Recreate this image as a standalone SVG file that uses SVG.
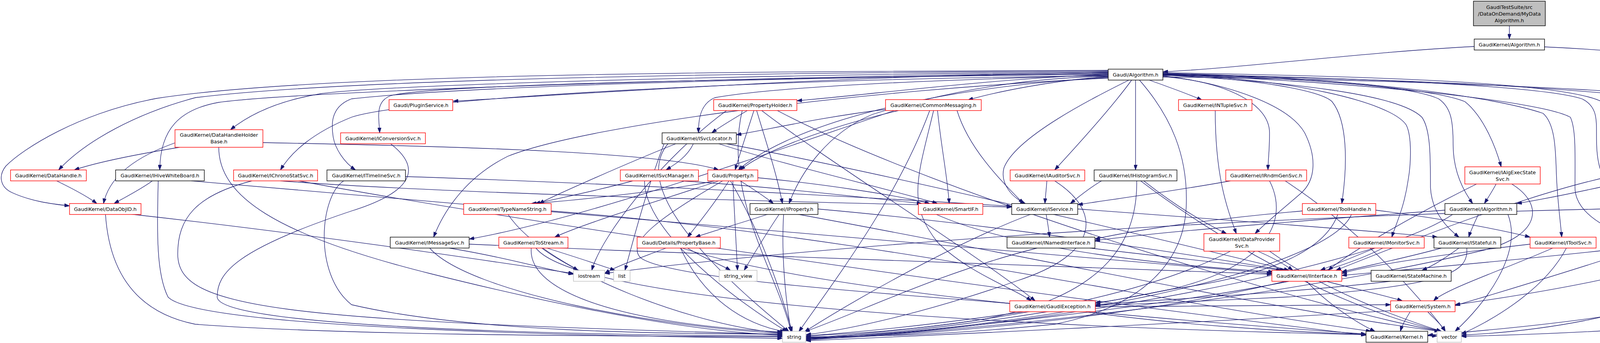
<svg xmlns="http://www.w3.org/2000/svg" width="4883" height="878" viewBox="0 0 4883 878">
<defs>
<marker id="a" markerWidth="13" markerHeight="9" refX="13" refY="4.5" orient="auto" markerUnits="userSpaceOnUse"><path d="M0,0 L13,4.5 L0,9 z" fill="#191970" stroke="#191970" stroke-width="1"/></marker>
</defs>
<style>
rect{fill:#fff;stroke-width:1.4}
.r{stroke:#ff0000}.b{stroke:#000}.g{stroke:#bfbfbf}
text{font-family:"DejaVu Sans",sans-serif;font-size:12.8px;text-anchor:middle;fill:#000}
#edges path{fill:none;stroke:#191970;stroke-width:1.3;marker-end:url(#a)}
</style>
<rect x="0" y="0" width="4883" height="878" style="fill:#fff;stroke:none"/>
<g id="edges">
<path d="M3864,66 C3864,80 3864,86 3864,100"/>
<path d="M3774,119 C3500,133 3200,172 2977,184"/>
<path d="M3954,120 C4300,135 4827,200 4827,300 C4827,420 4780,480 4737,521"/>
<path d="M2837,186 C2200,190 1500,240 1160,259"/>
<path d="M2837,190 C2500,205 2250,240 2040,258"/>
<path d="M2837,196 C2700,205 2550,235 2478,256"/>
<path d="M2942,205 C2990,222 3040,240 3077,256"/>
<path d="M2837,188 C2000,200 1100,215 1000,245 C960,260 970,300 972,340"/>
<path d="M2837,192 C2400,205 2000,220 1830,250 C1795,265 1788,300 1788,340"/>
<path d="M2837,184 C2000,190 1000,215 820,240 C700,260 630,300 590,332"/>
<path d="M2837,182 C2000,185 900,200 500,250 C350,290 220,360 150,435"/>
<path d="M2837,180 C1800,183 800,190 400,252 C200,290 60,380 15,425 C-5,450 0,480 33,494 C80,515 130,522 178,527"/>
<path d="M2837,186 C2000,195 800,230 560,262 C460,280 410,330 409,435"/>
<path d="M2837,194 C2000,200 1050,250 900,300 C800,340 745,390 718,435"/>
<path d="M2837,190 C2000,198 1200,220 900,253 C840,275 850,330 853,351 C858,380 880,415 910,435"/>
<path d="M2837,198 C2300,230 2000,340 1890,435"/>
<path d="M2897,205 C2850,270 2760,370 2700,435"/>
<path d="M2907,205 L2907,435"/>
<path d="M2977,196 C3150,210 3250,270 3250,340 C3250,390 3246,410 3246,435"/>
<path d="M2977,188 C3300,200 3650,220 3750,260 C3800,300 3830,380 3843,427"/>
<path d="M2977,186 C3500,195 4000,210 4100,260 C4170,300 4205,370 4225,435"/>
<path d="M2837,195 C2600,200 2400,240 2233,293 C2120,340 2050,440 2020,521"/>
<path d="M2890,205 C2800,250 2600,350 2570,430 C2560,470 2590,505 2625,521"/>
<path d="M2977,192 C3200,200 3380,230 3410,260 C3450,310 3450,420 3435,521"/>
<path d="M2977,190 C3300,200 3600,215 3683,253 C3715,275 3720,310 3720,370 C3720,430 3740,480 3770,521"/>
<path d="M2977,189 C3500,200 3950,220 4050,253 C4085,270 4087,300 4087,330 C4087,400 4085,460 4160,521"/>
<path d="M2837,200 C2200,230 1500,320 1300,400 C1200,450 1140,530 1110,607"/>
<path d="M2977,194 C3150,215 3300,270 3340,340 C3370,400 3370,460 3330,495 C3290,530 3240,570 3213,598"/>
<path d="M2977,190 C3300,200 3560,260 3600,320 C3615,350 3612,420 3605,460 C3595,530 3575,570 3563,607"/>
<path d="M2977,192 C3300,210 3580,240 3640,300 C3662,330 3662,400 3662,480 C3665,540 3700,580 3735,607"/>
<path d="M2977,188 C3400,195 3800,240 3950,290 C3985,320 3982,400 3985,460 C3988,520 3995,570 3998,607"/>
<path d="M2977,191 C3500,210 3950,260 4020,300 C4035,330 4032,400 4032,480 C4032,540 4100,580 4172,607"/>
<path d="M2977,193 C3600,200 4400,230 4530,320 C4557,345 4557,400 4557,500 C4557,600 4300,700 3725,780"/>
<path d="M2977,197 C3700,205 4500,240 4780,300 C4877,330 4877,420 4877,500 C4877,650 4877,720 4800,760 C4600,830 4000,855 3741,861"/>
<path d="M2917,205 C3000,300 3040,400 3037,520 C3035,650 2950,780 2700,830 C2400,860 2200,862 2063,862"/>
<path d="M1913,283 C1880,303 1850,320 1822,340"/>
<path d="M1930,283 C1915,330 1895,390 1882,435"/>
<path d="M1937,283 C1960,360 1990,450 2003,521"/>
<path d="M1950,283 C2100,400 2500,650 2650,770"/>
<path d="M1860,283 C1700,400 1540,600 1515,692"/>
<path d="M1900,283 C1850,500 1990,700 2025,849"/>
<path d="M1990,283 C2400,500 3400,800 3690,848"/>
<path d="M2290,283 C2000,380 1500,560 1201,612"/>
<path d="M2267,280 C2100,300 1950,335 1885,345"/>
<path d="M2400,283 C2410,380 2425,450 2430,521"/>
<path d="M2450,283 C2480,380 2560,460 2620,521"/>
<path d="M2300,283 C2100,330 1950,390 1895,435"/>
<path d="M2380,283 C2300,500 2150,700 2045,849"/>
<path d="M2390,283 C2350,450 2320,520 2400,620 C2480,700 2600,740 2640,770"/>
<path d="M3111,283 C3111,450 3140,530 3165,598"/>
<path d="M1000,368 C1080,430 1060,490 900,540 C600,640 556,700 556,760 C556,840 1500,858 2003,860"/>
<path d="M1775,368 C1760,400 1730,420 1705,435"/>
<path d="M1730,368 C1600,420 1420,500 1380,521"/>
<path d="M1840,368 C2000,420 2300,490 2400,521"/>
<path d="M1860,368 C2300,450 3000,620 3300,692"/>
<path d="M1700,368 C1650,500 1620,620 1600,692"/>
<path d="M1710,368 C1600,500 1900,750 2020,849"/>
<path d="M460,377 C350,395 250,415 190,435"/>
<path d="M450,365 C350,400 280,450 265,521"/>
<path d="M673,365 C1200,375 1700,390 1840,435"/>
<path d="M560,377 C560,500 700,600 1100,700 C1500,800 1800,850 2003,858"/>
<path d="M145,463 C180,480 220,500 248,521"/>
<path d="M390,463 C360,485 320,505 292,521"/>
<path d="M405,463 C402,600 400,700 430,760 C500,840 1500,860 2003,866"/>
<path d="M490,463 C1500,550 2800,660 3256,700"/>
<path d="M645,463 C500,500 455,560 455,650 C455,790 700,820 2003,856"/>
<path d="M718,463 C1200,500 2200,520 2590,530"/>
<path d="M765,463 C1500,600 3000,800 3497,858"/>
<path d="M1038,452 C1600,470 2300,510 2590,528"/>
<path d="M880,463 C820,500 800,700 900,780 C1200,850 1700,855 2003,855"/>
<path d="M1620,463 C1520,490 1420,510 1370,521"/>
<path d="M1745,463 C2000,480 2250,510 2360,521"/>
<path d="M1650,463 C1650,600 1900,780 2015,849"/>
<path d="M1866,463 C1830,520 1790,570 1760,607"/>
<path d="M1876,463 C1880,550 1885,630 1888,692"/>
<path d="M1895,463 C1930,485 1960,505 1980,521"/>
<path d="M1840,463 C1700,510 1500,570 1420,607"/>
<path d="M1830,463 C1700,490 1450,515 1360,521"/>
<path d="M1850,463 C1700,550 1600,620 1640,660 C1720,720 2400,760 2600,778"/>
<path d="M1940,455 C2100,470 2300,500 2380,521"/>
<path d="M1870,463 C1950,600 2000,750 2028,849"/>
<path d="M2680,463 C2678,490 2676,505 2675,521"/>
<path d="M2700,463 C2820,540 2820,650 2600,720 C2400,790 2200,840 2063,857"/>
<path d="M2928,463 C3000,520 3080,570 3140,598"/>
<path d="M2910,463 C2912,600 2850,760 2500,820 C2300,850 2150,855 2063,860"/>
<path d="M2920,463 C3100,600 3400,780 3690,848"/>
<path d="M2820,463 C2790,480 2760,505 2740,521"/>
<path d="M3150,463 C3000,490 2850,510 2759,524"/>
<path d="M3250,463 C3300,560 3250,680 3000,740 C2600,820 2300,855 2063,866"/>
<path d="M3290,463 C3500,600 3650,780 3700,848"/>
<path d="M3830,471 C3820,490 3810,505 3800,521"/>
<path d="M3870,471 C3950,520 3950,600 3800,640 C3300,760 2500,850 2063,868"/>
<path d="M3780,471 C3600,560 3450,650 3400,692"/>
<path d="M4225,463 C4218,485 4212,505 4205,521"/>
<path d="M4170,463 C4050,490 3950,510 3883,521"/>
<path d="M4120,452 C3900,500 3600,620 3420,692"/>
<path d="M4280,463 C4350,520 4500,600 4400,700 C4200,820 3900,850 3741,858"/>
<path d="M270,548 C280,700 350,800 500,830 C900,860 1600,860 2003,862"/>
<path d="M333,548 C800,600 1200,660 1468,700"/>
<path d="M1300,548 C1400,700 1800,840 2003,852"/>
<path d="M1411,540 C2200,600 3000,780 3510,848"/>
<path d="M1967,548 C1900,570 1830,590 1780,607"/>
<path d="M1995,548 C1960,600 1930,650 1905,692"/>
<path d="M2006,548 C2000,650 2010,760 2025,849"/>
<path d="M2094,535 C2600,580 3100,660 3290,692"/>
<path d="M2040,548 C2600,650 3300,800 3685,848"/>
<path d="M2395,548 C2600,640 3000,680 3260,696"/>
<path d="M2678,548 C2682,570 2685,590 2687,607"/>
<path d="M2759,535 C3100,560 3500,590 3680,607"/>
<path d="M2640,548 C2450,620 2200,760 2060,849"/>
<path d="M3522,538 C3700,560 3850,590 3917,607"/>
<path d="M3334,540 C3100,560 2900,590 2803,612"/>
<path d="M3425,548 C3400,620 3300,700 3000,740 C2900,760 2850,770 2804,775"/>
<path d="M3460,548 C3400,700 2600,850 2063,864"/>
<path d="M3785,548 C3775,570 3765,590 3760,607"/>
<path d="M3699,538 C3400,560 3000,590 2803,616"/>
<path d="M3720,548 C3500,700 2500,860 2063,866"/>
<path d="M3860,548 C3900,650 3800,780 3725,848"/>
<path d="M4270,548 C4400,565 4520,590 4594,612"/>
<path d="M4098,535 C3000,560 2000,640 1548,700"/>
<path d="M4705,548 C4680,570 4660,590 4645,607"/>
<path d="M4720,548 C4700,700 4400,800 3655,858"/>
<path d="M1150,635 C1300,660 1400,690 1468,702"/>
<path d="M1100,635 C1200,750 1700,840 2003,853"/>
<path d="M1201,625 C2000,660 2900,690 3256,702"/>
<path d="M1387,635 C1420,660 1460,680 1480,692"/>
<path d="M1400,635 C1480,660 1540,680 1575,692"/>
<path d="M1360,635 C1350,750 1600,830 2003,850"/>
<path d="M1372,635 C1500,800 3000,850 3679,860"/>
<path d="M1705,635 C1640,660 1580,680 1548,700"/>
<path d="M1760,635 C1800,660 1850,680 1870,692"/>
<path d="M1742,635 C1800,760 1900,830 2010,849"/>
<path d="M1746,635 C2100,750 3000,820 3497,855"/>
<path d="M2790,635 C3000,660 3200,680 3280,692"/>
<path d="M2655,635 C2400,700 2200,800 2060,849"/>
<path d="M3220,643 C3260,660 3290,678 3310,692"/>
<path d="M3150,643 C3000,720 2700,820 2063,866"/>
<path d="M3250,643 C3400,750 3600,820 3690,848"/>
<path d="M3520,635 C3460,660 3410,680 3380,692"/>
<path d="M3540,635 C3300,760 2600,850 2063,868"/>
<path d="M3735,635 C3700,660 3670,680 3640,692"/>
<path d="M3690,635 C3600,660 3500,680 3435,696"/>
<path d="M3755,635 C3760,700 3700,730 3300,760 C3000,775 2850,780 2804,782"/>
<path d="M3975,635 C3850,690 3700,740 3670,770"/>
<path d="M3917,625 C3700,650 3500,680 3435,700"/>
<path d="M4010,635 C3950,750 3800,830 3741,855"/>
<path d="M4160,635 C3900,665 3600,690 3435,705"/>
<path d="M4200,635 C4000,700 3800,760 3725,782"/>
<path d="M3395,720 C3450,735 3540,755 3590,770"/>
<path d="M3345,720 C3400,780 3480,830 3520,848"/>
<path d="M3300,720 C3000,780 2400,850 2063,870"/>
<path d="M3560,720 C3300,750 3000,765 2804,780"/>
<path d="M2804,785 C3100,785 3400,780 3560,780"/>
<path d="M2780,798 C3000,830 3300,850 3497,856"/>
<path d="M2620,798 C2400,830 2200,850 2063,860"/>
<path d="M3610,798 C3600,815 3590,830 3585,848"/>
<path d="M3655,798 C3670,815 3690,830 3700,848"/>
<path d="M3565,795 C3000,830 2400,858 2063,872"/>
</g>
<g id="n_root"><rect x="3772" y="3" width="184" height="63" class="b" style="fill:#bfbfbf"/><text x="3864" y="22.5">GaudiTestSuite/src</text><text x="3864" y="39.5">/DataOnDemand/MyData</text><text x="3864" y="56.5">Algorithm.h</text></g>
<g id="n_gkalg"><rect x="3774" y="100" width="180" height="28" class="b"/><text x="3864" y="118.5">GaudiKernel/Algorithm.h</text></g>
<g id="n_galg"><rect x="2837" y="177" width="140" height="28" class="b"/><text x="2907" y="195.5">Gaudi/Algorithm.h</text></g>
<g id="n_plugin"><rect x="996" y="255" width="163" height="28" class="r"/><text x="1077.5" y="273.5">Gaudi/PluginService.h</text></g>
<g id="n_propholder"><rect x="1827" y="255" width="213" height="28" class="r"/><text x="1933.5" y="273.5">GaudiKernel/PropertyHolder.h</text></g>
<g id="n_commsg"><rect x="2267" y="255" width="245" height="28" class="r"/><text x="2389.5" y="273.5">GaudiKernel/CommonMessaging.h</text></g>
<g id="n_ntuple"><rect x="3017" y="255" width="188" height="28" class="r"/><text x="3111" y="273.5">GaudiKernel/INTupleSvc.h</text></g>
<g id="n_iconv"><rect x="872" y="340" width="217" height="28" class="r"/><text x="980.5" y="358.5">GaudiKernel/IConversionSvc.h</text></g>
<g id="n_isvcloc"><rect x="1695" y="340" width="190" height="28" class="b"/><text x="1790" y="358.5">GaudiKernel/ISvcLocator.h</text></g>
<g id="n_dhhb"><rect x="448" y="332" width="225" height="45" class="r"/><text x="560.5" y="349.5">GaudiKernel/DataHandleHolder</text><text x="560.5" y="366.5">Base.h</text></g>
<g id="n_datahandle"><rect x="27" y="435" width="194" height="28" class="r"/><text x="124" y="453.5">GaudiKernel/DataHandle.h</text></g>
<g id="n_ihwb"><rect x="296" y="435" width="227" height="28" class="b"/><text x="409.5" y="453.5">GaudiKernel/IHiveWhiteBoard.h</text></g>
<g id="n_ichrono"><rect x="598" y="435" width="215" height="28" class="r"/><text x="705.5" y="453.5">GaudiKernel/IChronoStatSvc.h</text></g>
<g id="n_itimeline"><rect x="837" y="435" width="201" height="28" class="b"/><text x="937.5" y="453.5">GaudiKernel/ITimelineSvc.h</text></g>
<g id="n_isvcmgr"><rect x="1588" y="435" width="200" height="28" class="r"/><text x="1688" y="453.5">GaudiKernel/ISvcManager.h</text></g>
<g id="n_property"><rect x="1812" y="435" width="128" height="28" class="r"/><text x="1876" y="453.5">Gaudi/Property.h</text></g>
<g id="n_iauditor"><rect x="2586" y="435" width="191" height="28" class="r"/><text x="2681.5" y="453.5">GaudiKernel/IAuditorSvc.h</text></g>
<g id="n_ihisto"><rect x="2801" y="435" width="212" height="28" class="b"/><text x="2907" y="453.5">GaudiKernel/IHistogramSvc.h</text></g>
<g id="n_irndm"><rect x="3138" y="435" width="207" height="28" class="r"/><text x="3241.5" y="453.5">GaudiKernel/IRndmGenSvc.h</text></g>
<g id="n_ialgexec"><rect x="3750" y="427" width="193" height="44" class="r"/><text x="3846.5" y="445.5">GaudiKernel/IAlgExecState</text><text x="3846.5" y="462.5">Svc.h</text></g>
<g id="n_ialgctx"><rect x="4120" y="435" width="216" height="28" class="b"/><text x="4228" y="453.5">GaudiKernel/IAlgContextSvc.h</text></g>
<g id="n_dataobjid"><rect x="178" y="521" width="183" height="28" class="r"/><text x="269.5" y="539.5">GaudiKernel/DataObjID.h</text></g>
<g id="n_typename"><rect x="1187" y="521" width="224" height="28" class="r"/><text x="1299" y="539.5">GaudiKernel/TypeNameString.h</text></g>
<g id="n_iproperty"><rect x="1920" y="521" width="174" height="28" class="b"/><text x="2007" y="539.5">GaudiKernel/IProperty.h</text></g>
<g id="n_smartif"><rect x="2351" y="521" width="165" height="28" class="r"/><text x="2433.5" y="539.5">GaudiKernel/SmartIF.h</text></g>
<g id="n_iservice"><rect x="2590" y="521" width="169" height="28" class="b"/><text x="2674.5" y="539.5">GaudiKernel/IService.h</text></g>
<g id="n_toolhandle"><rect x="3334" y="521" width="188" height="28" class="r"/><text x="3428" y="539.5">GaudiKernel/ToolHandle.h</text></g>
<g id="n_ialgorithm"><rect x="3699" y="521" width="184" height="28" class="b"/><text x="3791" y="539.5">GaudiKernel/IAlgorithm.h</text></g>
<g id="n_eventctx"><rect x="4098" y="521" width="204" height="28" class="r"/><text x="4200" y="539.5">GaudiKernel/EventContext.h</text></g>
<g id="n_tlc"><rect x="4594" y="521" width="247" height="28" class="b"/><text x="4717.5" y="539.5">GaudiKernel/ThreadLocalContext.h</text></g>
<g id="n_imsgsvc"><rect x="999" y="607" width="202" height="28" class="b"/><text x="1100" y="625.5">GaudiKernel/IMessageSvc.h</text></g>
<g id="n_tostream"><rect x="1277" y="607" width="177" height="28" class="r"/><text x="1365.5" y="625.5">GaudiKernel/ToStream.h</text></g>
<g id="n_propbase"><rect x="1631" y="607" width="213" height="28" class="r"/><text x="1737.5" y="625.5">Gaudi/Details/PropertyBase.h</text></g>
<g id="n_inamed"><rect x="2578" y="607" width="225" height="28" class="b"/><text x="2690.5" y="625.5">GaudiKernel/INamedInterface.h</text></g>
<g id="n_idataprov"><rect x="3082" y="598" width="194" height="45" class="r"/><text x="3179" y="616.5">GaudiKernel/IDataProvider</text><text x="3179" y="633.5">Svc.h</text></g>
<g id="n_imonitor"><rect x="3453" y="607" width="193" height="28" class="r"/><text x="3549.5" y="625.5">GaudiKernel/IMonitorSvc.h</text></g>
<g id="n_istateful"><rect x="3671" y="607" width="171" height="28" class="b"/><text x="3756.5" y="625.5">GaudiKernel/IStateful.h</text></g>
<g id="n_itoolsvc"><rect x="3917" y="607" width="169" height="28" class="r"/><text x="4001.5" y="625.5">GaudiKernel/IToolSvc.h</text></g>
<g id="n_iexcept"><rect x="4110" y="607" width="207" height="28" class="b"/><text x="4213.5" y="625.5">GaudiKernel/IExceptionSvc.h</text></g>
<g id="n_cstddef"><rect x="4594" y="607" width="70" height="28" class="g"/><text x="4629" y="625.5">cstddef</text></g>
<g id="n_iostream"><rect x="1468" y="692" width="80" height="28" class="g"/><text x="1508" y="710.5">iostream</text></g>
<g id="n_list"><rect x="1571" y="692" width="42" height="28" class="g"/><text x="1592" y="710.5">list</text></g>
<g id="n_stringview"><rect x="1841" y="692" width="97" height="28" class="g"/><text x="1889.5" y="710.5">string_view</text></g>
<g id="n_iinterface"><rect x="3256" y="692" width="179" height="28" class="r"/><text x="3345.5" y="710.5">GaudiKernel/IInterface.h</text></g>
<g id="n_statemachine"><rect x="3510" y="692" width="205" height="28" class="b"/><text x="3612.5" y="710.5">GaudiKernel/StateMachine.h</text></g>
<g id="n_gaudiexc"><rect x="2585" y="770" width="219" height="28" class="r"/><text x="2694.5" y="788.5">GaudiKernel/GaudiException.h</text></g>
<g id="n_system"><rect x="3560" y="770" width="165" height="28" class="r"/><text x="3642.5" y="788.5">GaudiKernel/System.h</text></g>
<g id="n_string"><rect x="2003" y="848" width="60" height="28" class="g"/><text x="2033" y="866.5">string</text></g>
<g id="n_kernel"><rect x="3497" y="848" width="158" height="28" class="b"/><text x="3576" y="866.5">GaudiKernel/Kernel.h</text></g>
<g id="n_vector"><rect x="3679" y="848" width="62" height="28" class="g"/><text x="3710" y="866.5">vector</text></g>
</svg>
